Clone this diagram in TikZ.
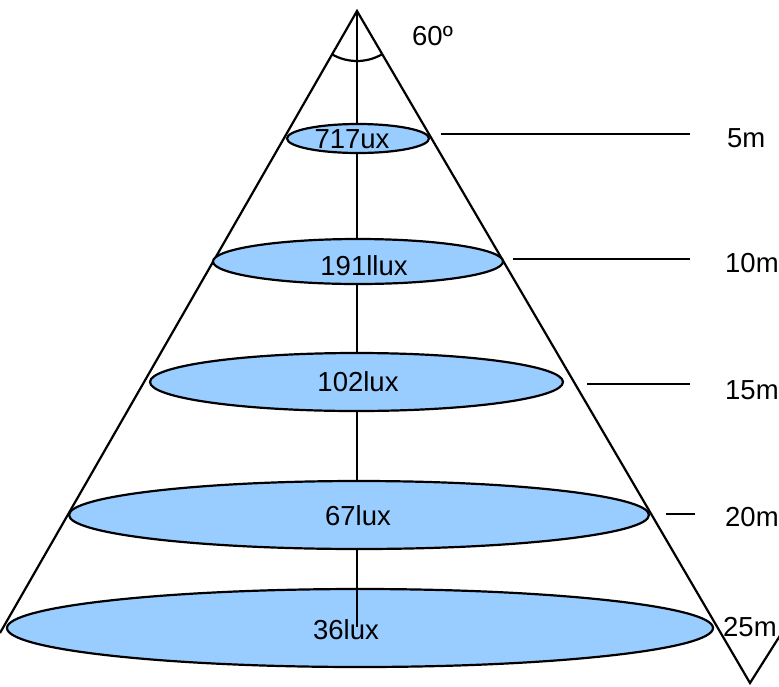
\documentclass[tikz,border=0pt]{standalone}
\usepackage{fontspec}
\setmainfont{Liberation Sans}
\usetikzlibrary{shapes.geometric,calc}
\definecolor{spotblue}{RGB}{153,204,255}
\tikzset{
  coneline/.style={line width=2.2pt},
  spot/.style={ellipse, draw, line width=2.2pt, fill=spotblue, inner sep=0pt, outer sep=0pt},
  txt/.style={inner sep=0pt, font=\fontsize{27.5}{30}\selectfont},
  tick/.style={line width=2pt}
}
\begin{document}
\begin{tikzpicture}[x=1pt,y=-1pt]
\useasboundingbox (0,0) rectangle (779,686);
\clip (0,0) rectangle (779,686);
% cone
\coordinate (A) at (357,11);
\coordinate (L) at (0,633);
\coordinate (R) at (750,683);
\coordinate (V) at (800,604);
\coordinate (axisend) at (357,627);
\draw[coneline] (L) -- (A) -- (R) -- (V);
% angle arc
\draw[coneline] ($(A)+(60:50)$) arc[start angle=60, end angle=120, radius=50];
\node[txt, anchor=west] (ang) at (412,36) {60º};
% axis (behind the spots)
\draw[coneline] (A) -- (axisend);
% spots
\node[spot, minimum width=142pt, minimum height=29pt] (e1) at (358,138.5) {};
\node[spot, minimum width=290pt, minimum height=45pt] (e2) at (358,261.5) {};
\node[spot, minimum width=413pt, minimum height=58pt] (e3) at (356.5,382) {};
\node[spot, minimum width=580pt, minimum height=68pt] (e4) at (359,515) {};
\node[spot, minimum width=706pt, minimum height=78pt] (e5) at (360,628) {};
\draw[coneline] (A |- e5.north) -- (axisend);
% lux labels
\node[txt] (l1) at (352,139) {717ux};
\node[txt] (l2) at (364,266) {191llux};
\node[txt] (l3) at (358,382) {102lux};
\node[txt] (l4) at (358,516) {67lux};
\node[txt] (l5) at (346,630) {36lux};
% distance ticks
\coordinate (t1a) at (441,134); \coordinate (t1b) at (690,134);
\coordinate (t2a) at (513,259); \coordinate (t2b) at (690,259);
\coordinate (t3a) at (587,384); \coordinate (t3b) at (690,384);
\coordinate (t4a) at (666,514); \coordinate (t4b) at (695,514);
\draw[tick] (t1a) -- (t1b);
\draw[tick] (t2a) -- (t2b);
\draw[tick] (t3a) -- (t3b);
\draw[tick] (t4a) -- (t4b);
% distance labels
\node[txt, anchor=west] (d1) at (727,138) {5m};
\node[txt, anchor=west] (d2) at (725,263) {10m};
\node[txt, anchor=west] (d3) at (725,390) {15m};
\node[txt, anchor=west] (d4) at (725,517) {20m};
\node[txt, anchor=west] (d5) at (723,627) {25m};
\end{tikzpicture}
\end{document}
